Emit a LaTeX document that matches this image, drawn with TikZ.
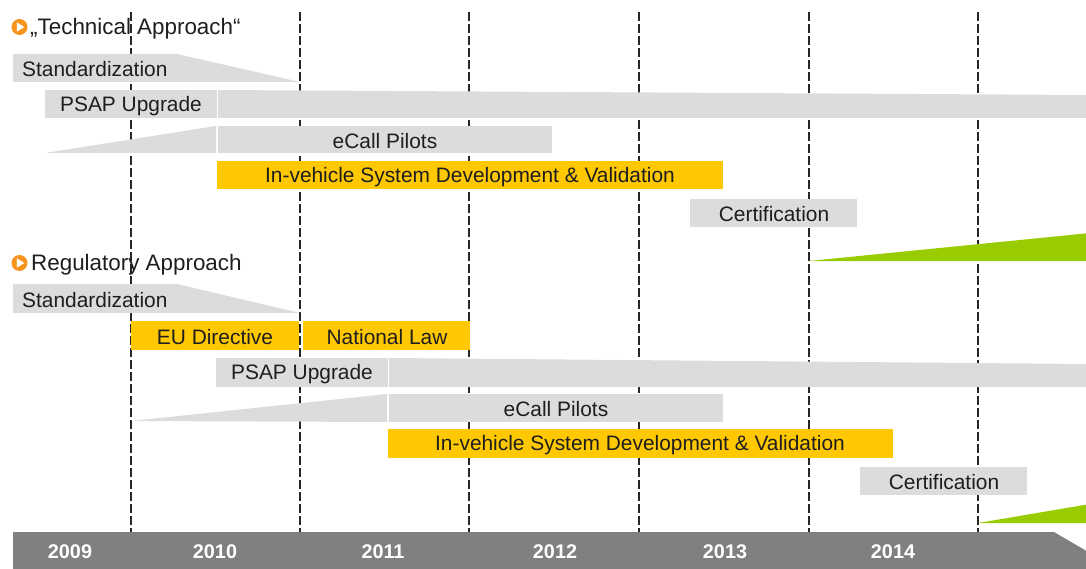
\documentclass[tikz,border=0pt]{standalone}
\usepackage{fontspec}
\setmainfont{Liberation Sans}
\definecolor{barGray}{HTML}{DCDCDC}
\definecolor{barYellow}{HTML}{FFC800}
\definecolor{barGreen}{HTML}{99CC00}
\definecolor{axisGray}{HTML}{808080}
\definecolor{iconOrange}{HTML}{F7941D}
\definecolor{txt}{HTML}{1E1E1E}
\begin{document}
\begin{tikzpicture}[x=1pt,y=-1pt,
  lbl/.style={inner sep=0pt, yshift=-1.5pt, text=txt, font=\fontsize{20.9}{24}\selectfont},
  graybar/.style={fill=barGray, draw=none},
  yellowbar/.style={fill=barYellow, draw=none},
  greenbar/.style={fill=barGreen, draw=none},
  title/.style={inner sep=0pt, yshift=-1.5pt, anchor=west, text=txt, font=\fontsize{22.4}{26}\selectfont},
  year/.style={inner sep=0pt, text=white, font=\bfseries\fontsize{19.8}{23}\selectfont},
  grid/.style={draw=black!85, line width=1.05pt, dash pattern=on 9pt off 3pt}]
\useasboundingbox (0,0) rectangle (1086,569);
\clip (0,0) rectangle (1086,569);

% year separators
\foreach \gx [count=\i] in {131,300,469,639,809,978}{
  \coordinate (gt\i) at (\gx,12);
  \coordinate (gb\i) at (\gx,532);
  \draw[grid] (gt\i) -- (gb\i);
}

% ---------- technical approach ----------
\fill[iconOrange] (19.5,27) circle (8);
\fill[white] (16.8,22.3) -- (24.3,27) -- (16.8,31.7) -- cycle;
\node[title] (tTitle) at (30,27) {„Technical Approach“};

\fill[graybar] (13,54) -- (177,54) -- (300,82) -- (13,82) -- cycle;
\node[lbl, anchor=west] (tStd) at (22,68) {Standardization};

\fill[graybar] (45,90) rectangle (217,118);
\fill[graybar] (218,90) -- (1090,95) -- (1090,118) -- (218,118) -- cycle;
\node[lbl] (tPsap) at (131,105) {PSAP Upgrade};

\fill[graybar] (45,153) -- (216,126) -- (216,153) -- cycle;
\fill[graybar] (218,126) rectangle (552,153);
\node[lbl] (tPil) at (385,140) {eCall Pilots};

\fill[yellowbar] (217,161) rectangle (723,189);
\node[lbl] (tVeh) at (470,176) {In-vehicle System Development \& Validation};

\fill[graybar] (690,199) rectangle (857,227);
\node[lbl] (tCert) at (774,213) {Certification};

\fill[greenbar] (809,261) -- (1090,233) -- (1090,261) -- cycle;

% ---------- regulatory approach ----------
\fill[iconOrange] (19.5,263) circle (8);
\fill[white] (16.8,258.3) -- (24.3,263) -- (16.8,267.7) -- cycle;
\node[title] (rTitle) at (31,263) {Regulatory Approach};

\fill[graybar] (13,284) -- (177,284) -- (300,313) -- (13,313) -- cycle;
\node[lbl, anchor=west] (rStd) at (22,299) {Standardization};

\fill[yellowbar] (131,321) rectangle (299,350);
\node[lbl] (rEu) at (215,336) {EU Directive};
\fill[yellowbar] (303,321) rectangle (470,350);
\node[lbl] (rNat) at (387,336) {National Law};

\fill[graybar] (216,358) rectangle (388,387);
\fill[graybar] (389,358) -- (1090,364) -- (1090,387) -- (389,387) -- cycle;
\node[lbl] (rPsap) at (302,373) {PSAP Upgrade};

\fill[graybar] (131,421) -- (387,394) -- (387,422) -- cycle;
\fill[graybar] (389,394) rectangle (723,422);
\node[lbl] (rPil) at (556,408) {eCall Pilots};

\fill[yellowbar] (388,429) rectangle (893,458);
\node[lbl] (rVeh) at (640,444) {In-vehicle System Development \& Validation};

\fill[graybar] (860,467) rectangle (1027,495);
\node[lbl] (rCert) at (944,481) {Certification};

\fill[greenbar] (978,523) -- (1090,504) -- (1090,523) -- cycle;

% ---------- time axis ----------
\fill[axisGray] (13,532) -- (1054,532) -- (1102,560) -- (1054,590) -- (13,590) -- cycle;
\foreach \yx/\yr in {70/2009,215/2010,383/2011,555/2012,725/2013,893/2014}
  \node[year] (y\yr) at (\yx,552) {\yr};
\end{tikzpicture}
\end{document}
